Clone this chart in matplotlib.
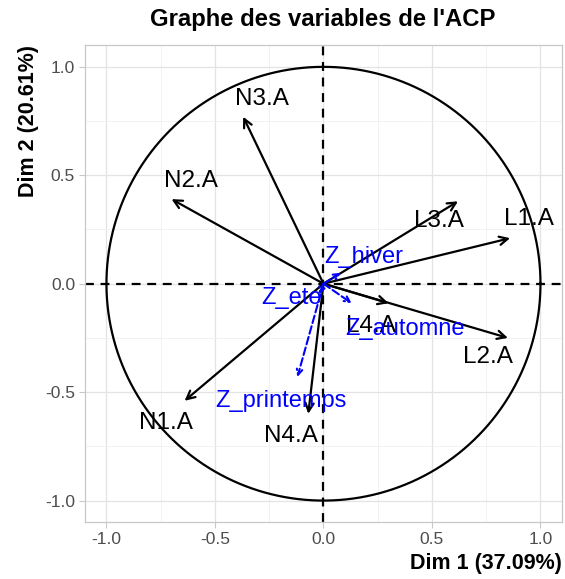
import numpy as np
import matplotlib
matplotlib.use("Agg")
import matplotlib.pyplot as plt
from matplotlib.ticker import MultipleLocator

plt.rcParams["font.family"] = ["Liberation Sans", "DejaVu Sans"]

# Active variables (coordinates on Dim 1 / Dim 2)
active_names = ["L1.A", "L2.A", "L3.A", "L4.A", "N1.A", "N2.A", "N3.A", "N4.A"]
active_x = [0.86, 0.85, 0.62, 0.30, -0.64, -0.70, -0.37, -0.07]
active_y = [0.21, -0.25, 0.38, -0.09, -0.54, 0.39, 0.77, -0.60]

# Supplementary variables
supp_names = ["Z_hiver", "Z_ete", "Z_automne", "Z_printemps"]
supp_x = [0.08, -0.02, 0.13, -0.12]
supp_y = [0.05, -0.05, -0.09, -0.43]

fig = plt.figure(figsize=(5.65, 5.79), dpi=100)
ax = fig.add_axes([0.150, 0.098, 0.845, 0.824])

ax.set_xlim(-1.1, 1.1)
ax.set_ylim(-1.1, 1.1)
ax.xaxis.set_minor_locator(MultipleLocator(0.25))
ax.yaxis.set_minor_locator(MultipleLocator(0.25))
ax.grid(which="major", color="#e3e3e3", linewidth=0.9)
ax.grid(which="minor", color="#f0f0f0", linewidth=0.6)
ax.set_axisbelow(True)
for s in ax.spines.values():
    s.set_color("#c8c8c8")
    s.set_linewidth(0.9)
ax.tick_params(which="major", colors="#4d4d4d", labelsize=12.5, length=4, color="#c8c8c8", pad=3)
ax.tick_params(which="minor", length=0)
ax.set_xticks([-1.0, -0.5, 0.0, 0.5, 1.0])
ax.set_xticklabels(["-1.0", "-0.5", "0.0", "0.5", "1.0"])
ax.set_yticks([-1.0, -0.5, 0.0, 0.5, 1.0])
ax.set_yticklabels(["-1.0", "-0.5", "0.0", "0.5", "1.0"])

# Correlation circle
t = np.linspace(0, 2 * np.pi, 400)
ax.plot(np.cos(t), np.sin(t), color="black", linewidth=1.6)

# Dashed axes lines
ax.axhline(0, color="black", linestyle=(0, (4, 3)), linewidth=1.6)
ax.axvline(0, color="black", linestyle=(0, (4, 3)), linewidth=1.6)

# Active arrows
for n, x, y in zip(active_names, active_x, active_y):
    ax.annotate("", xy=(x, y), xytext=(0, 0),
                arrowprops=dict(arrowstyle="->,head_length=0.6,head_width=0.3",
                                color="black", lw=1.6, shrinkA=0, shrinkB=0))

label_off = {
    "L1.A": (0.086, 0.09), "L2.A": (-0.09, -0.086), "L3.A": (-0.09, -0.09),
    "L4.A": (-0.08, -0.105), "N1.A": (-0.086, -0.10), "N2.A": (0.09, 0.085),
    "N3.A": (0.085, 0.083), "N4.A": (-0.082, -0.10),
}
for n, x, y in zip(active_names, active_x, active_y):
    dx, dy = label_off[n]
    ax.text(x + dx, y + dy, n, ha="center", va="center", fontsize=17.5, color="black")

# Supplementary arrows
for n, x, y in zip(supp_names, supp_x, supp_y):
    ax.annotate("", xy=(x, y), xytext=(0, 0),
                arrowprops=dict(arrowstyle="->,head_length=0.4,head_width=0.2",
                                color="blue", lw=1.5, linestyle="--",
                                shrinkA=0, shrinkB=0))

supp_off = {
    "Z_hiver": (0.104, 0.074), "Z_ete": (-0.127, -0.014),
    "Z_automne": (0.247, -0.117), "Z_printemps": (-0.078, -0.109),
}
for n, x, y in zip(supp_names, supp_x, supp_y):
    dx, dy = supp_off[n]
    ax.text(x + dx, y + dy, n, ha="center", va="center", fontsize=17, color="blue")

ax.set_xlabel("Dim 1 (37.09%)", loc="right", fontsize=15.5, fontweight="bold", labelpad=4)
ax.set_ylabel("Dim 2 (20.61%)", loc="top", fontsize=15.5, fontweight="bold", labelpad=4)
fig.text(0.572, 0.967, "Graphe des variables de l'ACP", ha="center", va="center",
         fontsize=17.2, fontweight="bold")

fig.savefig("out.png", dpi=100)
